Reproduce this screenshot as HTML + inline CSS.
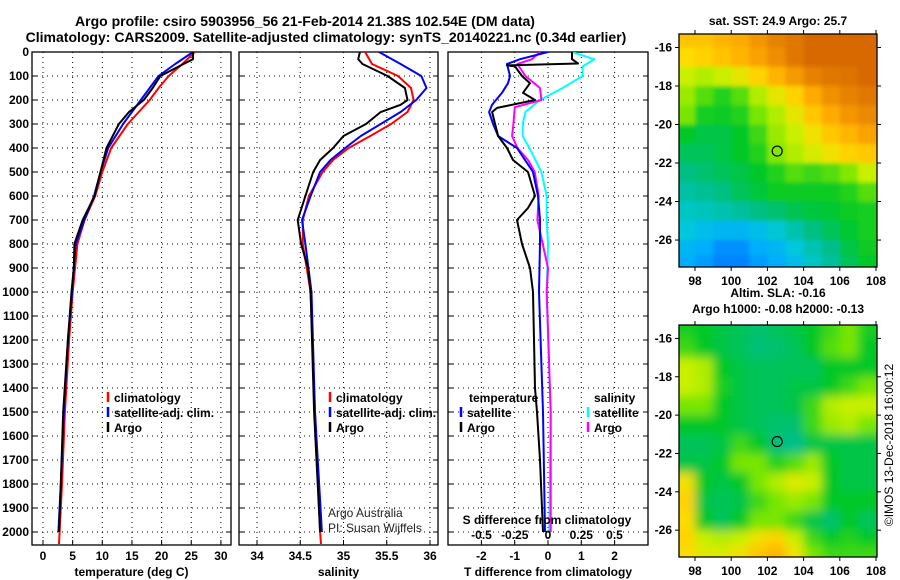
<!DOCTYPE html>
<html><head><meta charset="utf-8"><title>Argo profile</title>
<style>
html,body{margin:0;padding:0;background:#fff;}
svg{display:block;font-family:"Liberation Sans",Arial,sans-serif;}
.b{font-weight:bold;font-size:12px;fill:#000;}
.t{font-weight:bold;font-size:14px;fill:#000;}
</style></head>
<body>
<svg id="fig" width="900" height="580" viewBox="0 0 900 580" xmlns="http://www.w3.org/2000/svg">
<defs>
<clipPath id="c1"><rect x="32" y="52" width="199" height="493"/></clipPath>
<clipPath id="c2"><rect x="239" y="52" width="199" height="493"/></clipPath>
<clipPath id="c3"><rect x="448" y="52" width="200" height="493"/></clipPath>
<clipPath id="cm1"><rect x="679" y="34" width="198" height="233"/></clipPath>
<clipPath id="cm2"><rect x="679" y="325" width="198" height="232"/></clipPath>
<filter id="bl1" x="-10%" y="-10%" width="120%" height="120%"><feGaussianBlur stdDeviation="2"/></filter>
<filter id="bl2" x="-10%" y="-10%" width="120%" height="120%"><feGaussianBlur stdDeviation="5"/></filter>
</defs>
<text class="t" x="305" y="26" text-anchor="middle">Argo profile: csiro 5903956_56 21-Feb-2014 21.38S 102.54E (DM data)</text>
<text class="t" x="326" y="42" text-anchor="middle">Climatology: CARS2009. Satellite-adjusted climatology: synTS_20140221.nc (0.34d earlier)</text>
<g id="panels"></g>
<g id="maps"></g>
</svg>
<script>
// ---------- profile data ----------
const tempArgoDepth=[0,30,50,100,150,200,250,300,400,500,600,700,800,900,1000,1200,1500,1800,2000];
const tempArgo=[25.3,25.3,23.7,19.8,18.5,17.0,14.5,12.8,10.7,9.7,8.7,6.7,5.3,5.2,4.8,4.2,3.4,3.0,2.7];
const tempClimDepth=[0,50,100,150,200,300,400,500,600,700,800,1000,1200,1500,1800,2000,2050];
const tempClim=[25.6,23.5,21.2,19.5,18.0,14.3,11.5,10.0,8.8,7.0,5.8,5.0,4.4,3.7,3.2,2.8,2.7];
const tempSatDepth=[0,50,100,200,300,400,500,600,700,800,1000,1200,1500,1800,2000];
const tempSat=[25.3,22.3,19.5,16.5,13.5,11.0,9.7,8.6,7.0,5.5,4.9,4.2,3.5,3.0,2.6];

const salArgoDepth=[0,30,50,100,150,200,220,250,300,350,400,450,500,600,700,800,900,1000,1500,2000];
const salArgo=[35.19,35.17,35.22,35.51,35.71,35.74,35.66,35.43,35.26,35.0,34.88,34.73,34.65,34.56,34.47,34.51,34.59,34.62,34.66,34.73];
const salClimDepth=[0,50,100,150,200,250,300,350,400,450,500,600,700,800,1000,1500,2000,2050];
const salClim=[35.25,35.33,35.63,35.78,35.81,35.74,35.55,35.31,35.06,34.88,34.76,34.6,34.53,34.53,34.62,34.67,34.73,34.74];
const salSatDepth=[0,50,100,150,200,250,300,350,400,450,500,600,700,800,1000,1500,2000];
const salSat=[35.41,35.66,35.9,35.96,35.84,35.66,35.43,35.2,35.02,34.85,34.73,34.62,34.52,34.56,34.63,34.67,34.75];

const dTArgoDepth=[0,30,48,52,56,60,100,130,170,200,233,250,300,350,400,450,500,600,650,700,800,900,1000,1200,1400,1500,1700,2000];
const dTArgo=[0.72,0.72,0.9,-0.24,-1.23,-0.99,-0.78,-0.54,-0.75,-0.39,-1.53,-1.68,-1.59,-1.5,-1.23,-1.05,-0.6,-0.39,-0.6,-0.93,-0.78,-0.54,-0.45,-0.42,-0.39,-0.33,-0.24,-0.15];
const dTSatDepth=[0,30,50,100,130,170,220,250,300,350,400,500,600,700,800,1000,1500,2000];
const dTSat=[0,-0.84,-1.23,-1.14,-1.2,-1.38,-1.68,-1.77,-1.65,-1.5,-0.93,-0.45,-0.3,-0.24,-0.24,-0.27,-0.15,-0.09];
const dSArgoDepth=[0,30,50,100,150,200,230,300,350,400,450,500,600,700,800,900,1000,1500,2000];
const dSArgo=[-0.06,-0.12,-0.23,-0.17,-0.06,-0.05,-0.25,-0.26,-0.27,-0.23,-0.15,-0.1,-0.07,-0.08,-0.04,0,-0.01,0.02,0.02];
const dSSatDepth=[0,30,60,100,150,200,250,300,350,400,500,600,700,800,1000,1500,2000];
const dSSat=[0.18,0.35,0.26,0.26,0.11,-0.06,-0.17,-0.19,-0.19,-0.14,-0.05,-0.01,-0.01,0,-0.01,0.02,0.01];

const depthTicks=[0,100,200,300,400,500,600,700,800,900,1000,1100,1200,1300,1400,1500,1600,1700,1800,1900,2000];
const tempTicks=[0,5,10,15,20,25,30];
const salTicks=[34,34.5,35,35.5,36];
const salTickLabels=["34","34.5","35","35.5","36"];
const dTTicks=[-2,-1,0,1,2];
const dSTicks=[-0.5,-0.25,0,0.25,0.5];
const dSTickLabels=["-0.5","-0.25","0","0.25","0.5"];

// ---------- map data ----------
const mapLons=[97.5,98.5,99.5,100.5,101.5,102.5,103.5,104.5,105.5,106.5,107.5];
const mapLats=[-15.5,-16.5,-17.5,-18.5,-19.5,-20.5,-21.5,-22.5,-23.5,-24.5,-25.5,-26.5,-27.3];
const sstGrid=[
[0.75,0.75,0.78,0.8,0.85,0.9,0.92,0.95,0.95,0.95,0.95],
[0.7,0.72,0.75,0.78,0.82,0.87,0.92,0.95,0.95,0.95,0.95],
[0.62,0.6,0.62,0.66,0.72,0.78,0.84,0.9,0.92,0.93,0.95],
[0.58,0.52,0.48,0.52,0.6,0.66,0.72,0.8,0.86,0.9,0.92],
[0.55,0.47,0.46,0.48,0.55,0.6,0.66,0.74,0.8,0.85,0.88],
[0.45,0.42,0.42,0.45,0.5,0.58,0.62,0.68,0.74,0.78,0.82],
[0.4,0.4,0.42,0.45,0.48,0.56,0.6,0.64,0.68,0.72,0.74],
[0.36,0.38,0.4,0.42,0.45,0.48,0.52,0.5,0.52,0.56,0.62],
[0.32,0.34,0.36,0.4,0.43,0.46,0.46,0.46,0.46,0.48,0.52],
[0.28,0.29,0.31,0.33,0.36,0.38,0.41,0.43,0.44,0.46,0.47],
[0.25,0.22,0.2,0.2,0.22,0.26,0.31,0.36,0.4,0.44,0.47],
[0.2,0.18,0.15,0.15,0.18,0.2,0.25,0.3,0.35,0.42,0.46],
[0.18,0.16,0.14,0.14,0.16,0.18,0.22,0.28,0.33,0.4,0.45]];
const slaGrid=[
[0.47,0.45,0.42,0.4,0.38,0.4,0.42,0.45,0.5,0.55,0.47],
[0.5,0.45,0.42,0.4,0.37,0.38,0.4,0.45,0.52,0.55,0.45],
[0.62,0.6,0.45,0.42,0.4,0.4,0.4,0.4,0.45,0.45,0.45],
[0.62,0.6,0.47,0.42,0.4,0.4,0.42,0.42,0.45,0.5,0.55],
[0.55,0.55,0.45,0.42,0.4,0.4,0.42,0.5,0.6,0.62,0.62],
[0.45,0.45,0.45,0.42,0.4,0.38,0.38,0.5,0.58,0.6,0.55],
[0.4,0.4,0.42,0.5,0.45,0.37,0.35,0.42,0.42,0.42,0.42],
[0.42,0.42,0.45,0.55,0.55,0.48,0.52,0.58,0.45,0.42,0.42],
[0.68,0.45,0.42,0.45,0.55,0.6,0.65,0.62,0.45,0.42,0.42],
[0.72,0.42,0.4,0.42,0.5,0.55,0.58,0.55,0.45,0.45,0.45],
[0.7,0.45,0.4,0.45,0.55,0.55,0.5,0.42,0.38,0.45,0.4],
[0.72,0.62,0.6,0.62,0.68,0.72,0.62,0.5,0.45,0.48,0.45],
[0.7,0.65,0.65,0.68,0.75,0.78,0.68,0.55,0.5,0.5,0.5]];
const lonTicks=[98,100,102,104,106,108];
const latTicks=[-16,-18,-20,-22,-24,-26];
const argoLon=102.54, argoLat=-21.38;

const NS="http://www.w3.org/2000/svg";
function mk(tag,attrs,parent,txt){const e=document.createElementNS(NS,tag);for(const k in attrs)e.setAttribute(k,attrs[k]);if(txt!==undefined)e.textContent=txt;parent.appendChild(e);return e;}
const yD=d=>52+0.24*d;
const P=document.getElementById('panels');

function panel(name,x0,x1,ticks,labels,xf,title,clip){
  const g=mk('g',{},P);
  
  
  depthTicks.forEach(d=>{const l=mk('line',{x1:x0,x2:x1,y1:yD(d),y2:yD(d),stroke:'#000','stroke-dasharray':'1,4','stroke-width':1},g);
    
    mk('line',{x1:x0,x2:x0+5,y1:yD(d),y2:yD(d),stroke:'#000'},g);mk('line',{x1:x1-5,x2:x1,y1:yD(d),y2:yD(d),stroke:'#000'},g);});
  ticks.forEach((v,i)=>{const x=xf(v);
    const l=mk('line',{x1:x,x2:x,y1:52,y2:545,stroke:'#000','stroke-dasharray':'1,4'},g);
    
    mk('line',{x1:x,x2:x,y1:540,y2:545,stroke:'#000'},g);
    if(labels){const t=mk('text',{class:'b',x:x,y:560,'text-anchor':'middle'},g,labels[i]);
      }
  });
  const r=mk('rect',{x:x0,y:52,width:x1-x0,height:493,fill:'none',stroke:'#000','stroke-width':1.3},g);
  
  const tt=mk('text',{class:'b',x:(x0+x1)/2,y:576,'text-anchor':'middle'},g,title);
  
  return mk('g',{'clip-path':'url(#'+clip+')'},g);
}
function line(g,depths,vals,xf,col,w,name){
  const pts=depths.map((d,i)=>xf(vals[i]).toFixed(1)+','+yD(d).toFixed(1)).join(' ');
  const p=mk('polyline',{points:pts,fill:'none',stroke:col,'stroke-width':w,'stroke-linejoin':'round'},g);
  
  
}
function legend(x,y,col,txt){
  mk('line',{x1:x,x2:x,y1:y-10,y2:y,stroke:col,'stroke-width':2.5},P);
  const t=mk('text',{class:'b',x:x+6,y:y},P,txt);
  
  
}

depthTicks.forEach(d=>{const t=mk('text',{class:'b',x:29,y:yD(d)+4,'text-anchor':'end'},P,String(d));
  });

const xT=v=>43+5.93*v;
const g1=panel('temperature-panel',32,231,tempTicks,tempTicks.map(String),xT,'temperature (deg C)','c1');
line(g1,tempClimDepth,tempClim,xT,'#f00',2,'temp-climatology-line');
line(g1,tempSatDepth,tempSat,xT,'#00f',2,'temp-satellite-line');
line(g1,tempArgoDepth,tempArgo,xT,'#000',2,'temp-argo-line');
legend(108,402,'#f00','climatology');legend(108,417,'#00f','satellite-adj. clim.');legend(108,432,'#000','Argo');

const xS=v=>257+86.5*(v-34);
const g2=panel('salinity-panel',239,438,salTicks,salTickLabels,xS,'salinity','c2');
line(g2,salClimDepth,salClim,xS,'#f00',2,'sal-climatology-line');
line(g2,salSatDepth,salSat,xS,'#00f',2,'sal-satellite-line');
line(g2,salArgoDepth,salArgo,xS,'#000',2,'sal-argo-line');
legend(330,402,'#f00','climatology');legend(330,417,'#00f','satellite-adj. clim.');legend(330,432,'#000','Argo');
[['Argo Australia',517],['PI: Susan Wijffels',532]].forEach(a=>{const t=mk('text',{x:328,y:a[1],'font-size':12,fill:'#222'},P,a[0]);
  });

const xDT=v=>548+33.3*v;
const xDS=v=>548+133*v;
const g3=panel('difference-panel',448,648,dTTicks,dTTicks.map(String),xDT,'T difference from climatology','c3');
line(g3,dSSatDepth,dSSat,xDS,'#0ff',2,'sdiff-satellite-line');
line(g3,dSArgoDepth,dSArgo,xDS,'#f0f',2,'sdiff-argo-line');
line(g3,dTSatDepth,dTSat,xDT,'#00f',2,'tdiff-satellite-line');
line(g3,dTArgoDepth,dTArgo,xDT,'#000',2,'tdiff-argo-line');
{const t=mk('text',{class:'b',x:469,y:402},P,'temperature');}
{const t=mk('text',{class:'b',x:594,y:402},P,'salinity');}
legend(461,417,'#00f','satellite');legend(461,432,'#000','Argo');
legend(588,417,'#0ff','satellite');legend(588,432,'#f0f','Argo');
{const t=mk('text',{class:'b',x:547,y:524,'text-anchor':'middle'},P,'S difference from climatology');}
dSTicks.forEach((v,i)=>{const t=mk('text',{class:'b',x:xDS(v),y:539,'text-anchor':'middle'},P,dSTickLabels[i]);
  });

// ---------- maps ----------
const stops=[[0.1,[0,80,255]],[0.17,[0,170,255]],[0.25,[0,200,220]],[0.35,[0,190,140]],[0.45,[0,200,40]],[0.55,[120,230,0]],[0.62,[200,240,0]],[0.7,[255,220,0]],[0.8,[255,170,0]],[0.9,[230,130,0]],[0.95,[215,105,0]]];
function cmap(v){if(v<=stops[0][0])return 'rgb('+stops[0][1]+')';
  for(let i=1;i<stops.length;i++){if(v<=stops[i][0]){const a=stops[i-1],b=stops[i],f=(v-a[0])/(b[0]-a[0]);
    return 'rgb('+a[1].map((c,k)=>Math.round(c+f*(b[1][k]-c))).join(',')+')';}}
  return 'rgb('+stops[stops.length-1][1]+')';}
const M=document.getElementById('maps');
function map(name,top,bottom,grid,clip,filt,title1,title2){
  const x0=679,x1=877;
  const xL=lon=>695+18.1*(lon-98);
  const yL=lat=>top+(lat+15.3)*(-(bottom-top)/12.1);
  const g=mk('g',{},M);
  
  
  const cg=mk('g',{'clip-path':'url(#'+clip+')'},g);
  const fg=mk('g',{filter:'url(#'+filt+')'},cg);
  grid.forEach((row,r)=>row.forEach((v,c)=>{
    let xa=xL(mapLons[c]-0.5),xb=xL(mapLons[c]+0.5),ya=yL(mapLats[r]+0.5),yb=yL(mapLats[r]-0.5);
    if(c===0)xa-=20; if(c===row.length-1)xb+=20; if(r===0)ya-=20; if(r===grid.length-1)yb+=20;
    const e=mk('rect',{x:xa,y:ya,width:xb-xa+0.6,height:yb-ya+0.6,fill:cmap(v)},fg);
    
    
  }));
  const c=mk('circle',{cx:xL(argoLon),cy:yL(argoLat),r:5,fill:'none',stroke:'#000','stroke-width':1.2},g);
  
  mk('rect',{x:x0,y:top,width:x1-x0,height:bottom-top,fill:'none',stroke:'#000','stroke-width':1.3},g);
  lonTicks.forEach(l=>{const x=xL(l);mk('line',{x1:x,x2:x,y1:top-4,y2:top,stroke:'#000'},g);mk('line',{x1:x,x2:x,y1:bottom,y2:bottom+4,stroke:'#000'},g);
    const t=mk('text',{class:'b',x:x,y:bottom+18,'text-anchor':'middle'},g,String(l));});
  latTicks.forEach(l=>{const y=yL(l);mk('line',{x1:x0-4,x2:x0,y1:y,y2:y,stroke:'#000'},g);mk('line',{x1:x1,x2:x1+4,y1:y,y2:y,stroke:'#000'},g);
    const t=mk('text',{class:'b',x:672,y:y+4,'text-anchor':'end'},g,String(l));});
  const t1=mk('text',{class:'b',x:778,y:title2?top-28:top-9,'text-anchor':'middle'},g,title1);
  
  if(title2){const t2=mk('text',{class:'b',x:778,y:top-12,'text-anchor':'middle'},g,title2);}
}
map('sst-map',34,267,sstGrid,'cm1','bl1','sat. SST: 24.9 Argo: 25.7');
map('sla-map',325,557,slaGrid,'cm2','bl2','Altim. SLA: -0.16','Argo h1000: -0.08 h2000: -0.13');
{const t=mk('text',{x:893,y:445,'font-size':12,fill:'#000','text-anchor':'middle',transform:'rotate(-90 893 445)'},M,'©IMOS 13-Dec-2018 16:00:12');
 }
</script>
</body></html>
